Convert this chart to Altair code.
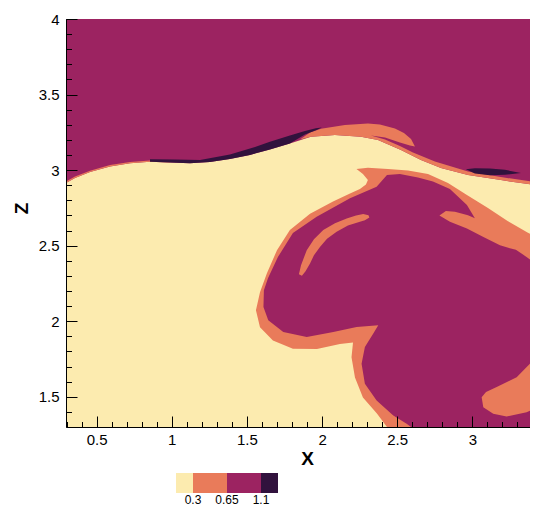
import altair as alt
import pandas as pd

# ---------------- colour bar ----------------
LEVELS = ["0.3", "0.65", "1.1"]                      # contour levels shown in the colour bar
BAND_COLORS = ["#FCEBAF", "#E97B5A", "#9C2361", "#31123D"]  # bands: <0.3, 0.3-0.65, 0.65-1.1, >1.1

X_RANGE = [0.296, 3.437]
Z_RANGE = [1.3, 4.0]

X_MAJOR = [0.5, 1, 1.5, 2, 2.5, 3]
Z_MAJOR = [1.5, 2, 2.5, 3, 3.5, 4]
X_MINOR = [round(0.3 + 0.1 * k, 1) for k in range(32)]
Z_MINOR = [round(1.3 + 0.1 * k, 1) for k in range(28)]

# ---------------- contour regions (x, z outlines) ----------------
background_x = [0.296, 3.437, 3.437, 0.296]
background_z = [1.3, 1.3, 4.0, 4.0]

upper_x = [0.296, 3.437, 3.437, 3.190, 2.971, 2.791, 2.658, 2.525, 2.372, 2.259, 2.086, 1.926,
           1.786, 1.653, 1.520, 1.387, 1.254, 1.121, 0.988, 0.855, 0.722, 0.589, 0.456, 0.356, 0.296]
upper_z = [4.0, 4.0, 2.898, 2.934, 2.968, 3.014, 3.067, 3.133, 3.200, 3.221, 3.233, 3.221,
           3.176, 3.137, 3.100, 3.074, 3.054, 3.045, 3.050, 3.056, 3.045, 3.024, 2.987, 2.948, 2.914]

edge_x = [0.296, 0.356, 0.456, 0.589, 0.722, 0.855, 0.988, 0.988, 0.855, 0.722, 0.589, 0.456, 0.356, 0.296]
edge_z = [2.914, 2.948, 2.987, 3.024, 3.045, 3.056, 3.050, 3.056, 3.063, 3.053, 3.033, 2.996, 2.957, 2.924]

bump_x = [1.853, 1.920, 1.993, 2.152, 2.305, 2.385, 2.485, 2.545, 2.592, 2.618, 2.585, 2.518, 2.419,
          2.325, 2.419, 2.518, 2.605, 2.751, 2.971, 3.190, 3.437, 3.437, 3.190, 2.971, 2.791, 2.658,
          2.525, 2.372, 2.259, 2.086, 1.926]
bump_z = [3.203, 3.249, 3.273, 3.299, 3.309, 3.302, 3.276, 3.246, 3.206, 3.156, 3.163, 3.183, 3.216,
          3.229, 3.203, 3.160, 3.117, 3.057, 2.991, 2.954, 2.918, 2.898, 2.934, 2.968, 3.014, 3.067,
          3.133, 3.200, 3.221, 3.233, 3.221]

sliver_a_x = [0.855, 1.021, 1.188, 1.387, 1.554, 1.653, 1.786, 1.886, 1.959, 1.999, 1.959, 1.886,
              1.786, 1.653, 1.520, 1.387, 1.254, 1.121, 0.988, 0.855]
sliver_a_z = [3.072, 3.070, 3.067, 3.103, 3.153, 3.188, 3.229, 3.259, 3.277, 3.282, 3.263, 3.236,
              3.176, 3.137, 3.100, 3.074, 3.054, 3.045, 3.050, 3.056]

sliver_b_x = [2.957, 3.017, 3.117, 3.217, 3.323, 3.217, 3.117, 3.017]
sliver_b_z = [3.005, 3.012, 3.010, 3.002, 2.981, 2.969, 2.966, 2.977]

outer_x = [3.437, 3.370, 3.237, 3.104, 2.964, 2.838, 2.705, 2.572, 2.438, 2.305, 2.229, 2.272, 2.305,
           2.292, 2.252, 2.186, 2.073, 1.920, 1.786, 1.700, 1.633, 1.587, 1.560, 1.587, 1.673, 1.806,
           1.966, 2.119, 2.206, 2.196, 2.219, 2.272, 2.365, 2.432, 3.437]
outer_z = [2.550, 2.586, 2.662, 2.749, 2.835, 2.914, 2.974, 2.997, 3.007, 3.016, 3.007, 2.974, 2.934,
           2.905, 2.875, 2.845, 2.792, 2.712, 2.603, 2.470, 2.318, 2.192, 2.072, 1.960, 1.873, 1.818,
           1.817, 1.850, 1.860, 1.761, 1.628, 1.495, 1.389, 1.3, 1.3]

core_x = [2.432, 2.518, 2.638, 2.738, 2.851, 2.964, 3.017, 2.971, 2.884, 2.824, 2.781, 2.851, 2.964,
          3.077, 3.184, 3.250, 3.290, 3.363, 3.437, 3.437, 2.592, 2.563, 2.474, 2.363, 2.285, 2.263,
          2.285, 2.341, 2.374, 2.230, 2.075, 1.898, 1.742, 1.642, 1.610, 1.613, 1.640, 1.707, 1.806,
          1.964, 2.186, 2.363]
core_z = [2.968, 2.974, 2.951, 2.924, 2.875, 2.769, 2.682, 2.702, 2.725, 2.729, 2.699, 2.659, 2.613,
          2.556, 2.503, 2.483, 2.473, 2.424, 2.367, 1.3, 1.3, 1.321, 1.376, 1.475, 1.586, 1.719,
          1.829, 1.918, 1.973, 1.962, 1.928, 1.895, 1.928, 2.006, 2.094, 2.205, 2.284, 2.426, 2.583,
          2.691, 2.813, 2.890]

streak_x = [1.846, 1.860, 1.898, 1.946, 2.008, 2.086, 2.164, 2.226, 2.274, 2.309, 2.315, 2.285, 2.252,
            2.172, 2.097, 2.033, 1.986, 1.946, 1.920, 1.890, 1.866]
streak_z = [2.311, 2.371, 2.470, 2.543, 2.603, 2.649, 2.680, 2.700, 2.709, 2.702, 2.686, 2.669, 2.658,
            2.633, 2.592, 2.546, 2.492, 2.437, 2.382, 2.331, 2.301]

lobe_x = [3.437, 3.416, 3.383, 3.295, 3.162, 3.091, 3.062, 3.073, 3.139, 3.228, 3.361, 3.437]
lobe_z = [1.907, 1.820, 1.719, 1.630, 1.564, 1.532, 1.497, 1.431, 1.387, 1.369, 1.398, 1.431]

# (band index, x, z) in drawing order; band 0: <0.3, 1: 0.3-0.65, 2: 0.65-1.1, 3: >1.1
REGIONS = [
    (0, background_x, background_z),
    (2, upper_x, upper_z),
    (1, bump_x, bump_z),
    (1, edge_x, edge_z),
    (3, sliver_a_x, sliver_a_z),
    (3, sliver_b_x, sliver_b_z),
    (1, outer_x, outer_z),
    (2, core_x, core_z),
    (1, streak_x, streak_z),
    (1, lobe_x, lobe_z),
]

W, H = 472, 408
FONT = "Liberation Sans"

# threshold scale: bands sit at 0,1,2,3; bar boxes at half steps so the end boxes are half width
THRESH = [0.5, 1, 1.5, 2, 2.5]
RANGE = [BAND_COLORS[0], BAND_COLORS[1], BAND_COLORS[1], BAND_COLORS[2], BAND_COLORS[2], BAND_COLORS[3]]
label_expr = ("datum.value === 0.5 ? '%s' : datum.value === 1.5 ? '%s' : datum.value === 2.5 ? '%s' : ''"
              % tuple(LEVELS))

legend = alt.Legend(title=None, orient="none", legendX=110, legendY=454, direction="horizontal",
                    gradientLength=102, gradientThickness=20, gradientStrokeWidth=0,
                    labelExpr=label_expr, labelFont=FONT, labelFontSize=12, labelColor="black",
                    labelOffset=2, labelOverlap=False, padding=0)

xscale = alt.Scale(domain=X_RANGE, nice=False, zero=False)
zscale = alt.Scale(domain=Z_RANGE, nice=False, zero=False)

x_axes = [
    alt.Axis(orient="bottom", values=X_MAJOR, format="~g", ticks=False, grid=False,
             domainColor="black", domainWidth=1, labelFont=FONT, labelFontSize=15,
             labelColor="black", labelPadding=5, title="X", titleFont=FONT, titleFontSize=19,
             titleFontWeight="bold", titleColor="black", titleX=241, titleY=31,
             titleAlign="center", titleBaseline="middle", zindex=1),
    alt.Axis(orient="top", offset=-H, values=X_MAJOR, labels=False, domain=False, grid=False,
             tickSize=11, tickColor="black", tickWidth=1, title=None, zindex=1),
    alt.Axis(orient="top", offset=-H, values=X_MINOR, labels=False, domain=False, grid=False,
             tickSize=5.5, tickColor="black", tickWidth=1, title=None, zindex=1),
]
z_axes = [
    alt.Axis(orient="left", values=Z_MAJOR, format="~g", ticks=False, grid=False,
             domainColor="black", domainWidth=1, labelFont=FONT, labelFontSize=15,
             labelColor="black", labelPadding=7, title="Z", titleFont=FONT, titleFontSize=19,
             titleFontWeight="bold", titleColor="black", titleX=-45, titleY=189,
             titleAlign="center", titleBaseline="middle", titleAngle=270, zindex=1),
    alt.Axis(orient="right", offset=-W, values=Z_MAJOR, labels=False, domain=False, grid=False,
             tickSize=11, tickColor="black", tickWidth=1, title=None, zindex=1),
    alt.Axis(orient="right", offset=-W, values=Z_MINOR, labels=False, domain=False, grid=False,
             tickSize=5.5, tickColor="black", tickWidth=1, title=None, zindex=1),
]

layers = []
for k, (band, xs, zs) in enumerate(REGIONS):
    df = pd.DataFrame({"x": xs, "z": zs, "i": list(range(len(xs))), "band": [band] * len(xs)})
    xa = x_axes[k] if k < len(x_axes) else None
    za = z_axes[k] if k < len(z_axes) else None
    layer = alt.Chart(df).mark_line(filled=True, clip=True).encode(
        x=alt.X("x:Q", scale=xscale, axis=xa),
        y=alt.Y("z:Q", scale=zscale, axis=za),
        color=alt.Color("band:Q", scale=alt.Scale(type="threshold", domain=THRESH, range=RANGE),
                        legend=legend),
        order=alt.Order("i:Q"),
    )
    layers.append(layer)

chart = alt.layer(*layers).resolve_axis(x="independent", y="independent").properties(
    width=W, height=H,
    autosize=alt.AutoSizeParams(type="none"),
    padding={"left": 58, "top": 11, "right": -8, "bottom": 82},
    background="white",
).configure_view(strokeWidth=0).configure_legend(
    gradientLength=102, gradientThickness=20, gradientStrokeWidth=0, padding=0
)

chart.save("out.html", embed_options={"renderer": "svg", "actions": False})
